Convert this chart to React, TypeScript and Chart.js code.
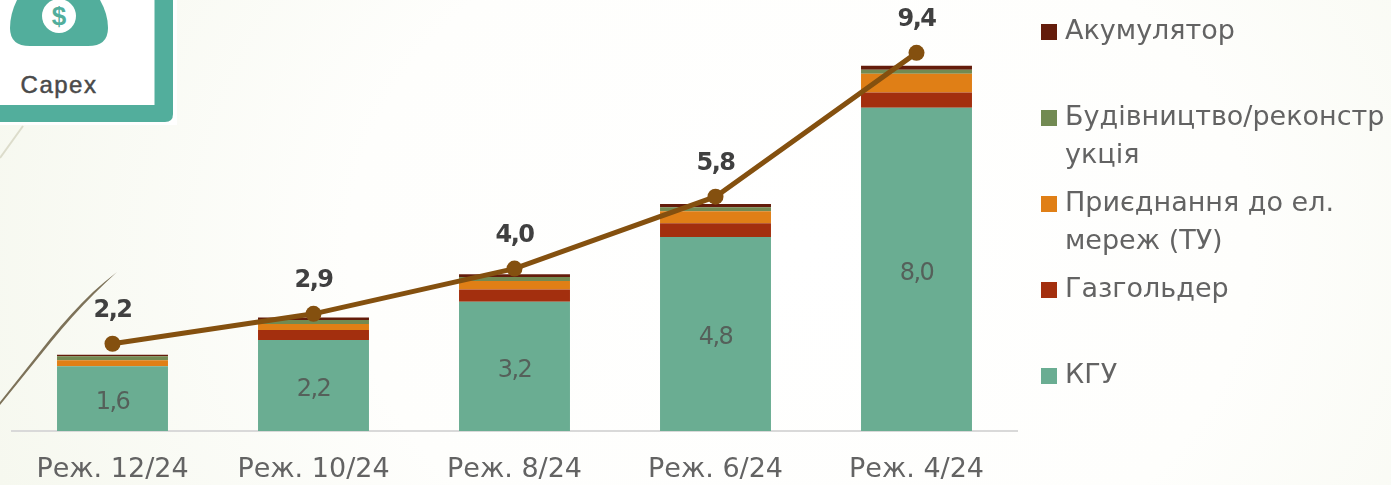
import React, { useEffect, useRef } from "react";
import { Chart, registerables } from "chart.js";

Chart.register(...registerables);

const categories = ["Реж. 12/24", "Реж. 10/24", "Реж. 8/24", "Реж. 6/24", "Реж. 4/24"];
const kgu = [1.6, 2.25, 3.2, 4.8, 8.0];
const kguLabels = ["1,6", "2,2", "3,2", "4,8", "8,0"];
const gazgolder = [0, 0.25, 0.3, 0.34, 0.38];
const connection = [0.15, 0.15, 0.21, 0.3, 0.46];
const construction = [0.1, 0.1, 0.1, 0.1, 0.1];
const accumulator = [0.04, 0.06, 0.07, 0.08, 0.1];
const totals = [2.16, 2.9, 4.02, 5.8, 9.36];
const totalLabels = ["2,2", "2,9", "4,0", "5,8", "9,4"];

const legendRows = [
  { lines: ["Акумулятор"], color: "#641c0b" },
  { lines: ["Будівництво/реконстр", "укція"], color: "#728a52" },
  { lines: ["Приєднання до ел.", "мереж (ТУ)"], color: "#e07f16" },
  { lines: ["Газгольдер"], color: "#a32f0e" },
  { lines: ["КГУ"], color: "#6aad92" },
];

const FONT = '"DejaVu Sans"';

const overlay = {
  id: "overlay",
  afterDatasetsDraw(chart: any) {
    const { ctx } = chart;
    ctx.save();
    ctx.textAlign = "center";
    ctx.textBaseline = "middle";
    const barMeta = chart.getDatasetMeta(0);
    ctx.font = `24px ${FONT}`;
    ctx.letterSpacing = "-1.5px";
    ctx.fillStyle = "#55605a";
    barMeta.data.forEach((el: any, i: number) => {
      ctx.fillText(kguLabels[i], el.x, (el.y + el.base) / 2 + 4);
    });
    const lineMeta = chart.getDatasetMeta(5);
    ctx.font = `bold 24px ${FONT}`;
    ctx.letterSpacing = "-1.5px";
    ctx.fillStyle = "#404040";
    lineMeta.data.forEach((el: any, i: number) => {
      ctx.fillText(totalLabels[i], el.x, el.y - 33);
    });
    ctx.letterSpacing = "0px";
    ctx.textAlign = "left";
    ctx.font = `27px ${FONT}`;
    ctx.fillStyle = "#636363";
    legendRows.forEach((row, i) => {
      const y = 32 + i * 86;
      ctx.save();
      ctx.fillStyle = row.color;
      ctx.fillRect(1041, y - 8, 16, 16);
      ctx.restore();
      row.lines.forEach((line, j) => ctx.fillText(line, 1065, y + j * 38));
    });
    ctx.restore();
  },
};

export default function App() {
  const ref = useRef<HTMLCanvasElement>(null);
  useEffect(() => {
    const bar = (label: string, data: number[], color: string) => ({
      type: "bar" as const,
      label,
      data,
      backgroundColor: color,
      stack: "capex",
      order: 1,
      barPercentage: 0.552,
      categoryPercentage: 1,
    });
    const chart = new Chart(ref.current!, {
      type: "bar",
      data: {
        labels: categories,
        datasets: [
          bar("КГУ", kgu, "#6aad92"),
          bar("Газгольдер", gazgolder, "#a32f0e"),
          bar("Приєднання до ел. мереж (ТУ)", connection, "#e07f16"),
          bar("Будівництво/реконструкція", construction, "#728a52"),
          bar("Акумулятор", accumulator, "#641c0b"),
          {
            type: "line" as const,
            label: "Разом",
            data: totals,
            borderColor: "#84500f",
            backgroundColor: "#84500f",
            borderWidth: 5,
            pointRadius: 8,
            pointBackgroundColor: "#84500f",
            pointBorderWidth: 0,
            tension: 0,
            order: 0,
          },
        ] as any,
      },
      options: {
        animation: false,
        responsive: false,
        layout: { padding: { left: 12, right: 374, top: 0, bottom: 0 } },
        plugins: { legend: { display: false }, tooltip: { enabled: false } },
        scales: {
          x: {
            stacked: true,
            grid: { display: false },
            border: { color: "#d9d9d9", width: 2 },
            ticks: { color: "#636363", font: { family: FONT, size: 27 }, padding: 15, maxRotation: 0 },
            afterFit: (s: any) => { s.height = 54; },
          },
          y: { stacked: true, display: false, min: 0, max: 10.47 },
        },
      },
      plugins: [overlay],
    } as any);
    return () => chart.destroy();
  }, []);

  return (
    <div style={{ position: "fixed", left: 0, top: 0, width: 1391, height: 485, overflow: "hidden",
      background: "radial-gradient(ellipse 1000px 800px at 800px 250px, #ffffff 0%, #fefefc 45%, #f6f8ef 85%, #f4f6ec 100%)" }}>
      <svg width={1391} height={485} style={{ position: "absolute", left: 0, top: 0 }}>
        <path d="M0 158 L23 126" stroke="#dcdccb" strokeWidth={2} fill="none" />
        <path d="M0 402 L50 339 Q71 313 93 292 Q104 282 117 272 Q105 283 94 294 Q72 316 51 342 L0 405 Z" fill="#7d7259" />
        <path d="M0 0 H177 V125 H0 Z" fill="#ffffff" />
        <path d="M0 0 H173 V114 Q173 122 165 122 H0 Z" fill="#52ae9c" />
        <rect x={0} y={0} width={154.5} height={105} fill="#ffffff" />
        <path d="M17 0 Q10 14 10 28 Q10 46 30 46 H88 Q108 46 108 28 Q108 14 100 0 Z" fill="#52ae9c" />
        <circle cx={59} cy={16} r={17} fill="#ffffff" />
        <text x={59} y={25} textAnchor="middle" fontFamily="Liberation Sans" fontWeight="bold" fontSize={26} fill="#52ae9c">$</text>
        <text x={59} y={93} textAnchor="middle" fontFamily="Liberation Sans" fontSize={24} letterSpacing={1.5} fill="#4a4a4a" stroke="#4a4a4a" strokeWidth={0.5}>Capex</text>
      </svg>
      <canvas ref={ref} width={1391} height={485} style={{ position: "absolute", left: 0, top: 0 }} />
    </div>
  );
}
